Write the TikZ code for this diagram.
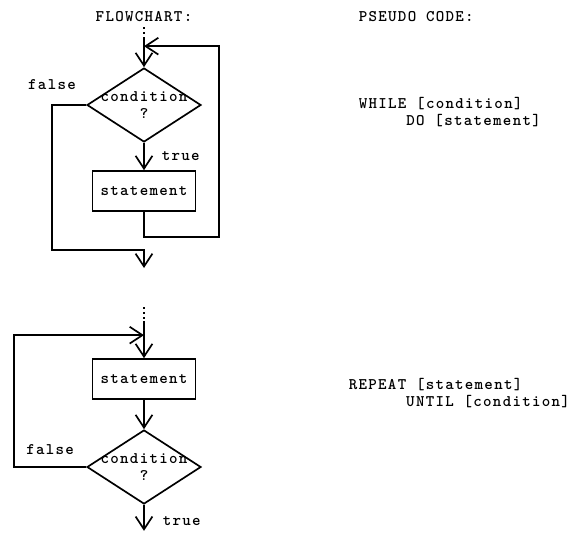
\documentclass[tikz,border=0pt]{standalone}
\usepackage{fontspec}
\setmonofont[Extension=.otf, LetterSpace=8]{lmmonolt10-bold}
\usetikzlibrary{shapes.geometric,calc,arrows.meta}
\tikzstyle{decision} = [diamond, minimum width=2.85cm, minimum height=1.85cm, inner sep=0pt, align=center, draw=black]
\tikzstyle{process} = [rectangle, minimum width=2.575cm, minimum height=1cm, inner sep=0pt, draw=black]
\tikzstyle{lbl} = [inner sep=0pt]
\tikzstyle{code} = [anchor=west, align=left, inner sep=0pt]
\tikzstyle{dots} = [dash pattern=on 1.2pt off 2.4pt]

\begin{document}
\begin{tikzpicture}[node distance=2.2cm, line width=1.2pt, >={Straight Barb[length=3.2mm,width=4.2mm]}, font=\ttfamily\fontsize{11.5}{12}\selectfont]
      \useasboundingbox (0,0) rectangle (14.675,-13.3);
      % headings
      \node (flow)[lbl] at (3.6,-0.415) {FLOWCHART:};
      \node (pseudo)[code] at ($(flow)+(5.35,0)$) {PSEUDO CODE:};
      % while loop
      \node (d1)[decision, below of=flow, node distance=2.21cm]{\makebox[0pt]{condition}\\\makebox[0pt]{?}};
      \node (s1)[process, below of=d1, node distance=2.15cm]{statement};
      \node (while)[code] at ($(d1)+(5.35,-0.175)$) {WHILE [condition]\\\phantom{WHILE}DO [statement]};
      \coordinate (in1) at ($(d1.north)+(0,1)$);
      \coordinate (in1b) at ($(d1.north)+(0,0.7)$);
      \coordinate (j1) at ($(d1.north)+(0,0.525)$);
      \coordinate (r1) at ($(s1.south)+(1.875,-0.625)$);
      \coordinate (l1) at ($(d1)+(-2.3,-3.625)$);
      \coordinate (e1) at ($(d1)+(0,-3.625)$);
      \coordinate (out1) at ($(d1)+(0,-4.075)$);
      \draw [dots](in1)--(in1b);
      \draw [->](in1b)--(d1);
      \draw [->](d1)--(s1) node[lbl, midway, right=0.425cm] {true};
      \draw [->](s1.south) |- (r1) |- (j1);
      \draw [->](d1.west) -| node[lbl, pos=0.5, above=0.36cm] {false} (l1) -- (e1) -- (out1);
      % repeat loop
      \node (s2)[process, below of=s1, node distance=4.7cm]{statement};
      \node (d2)[decision, below of=s2]{\makebox[0pt]{condition}\\\makebox[0pt]{?}};
      \node (repeat)[code] at ($(s2)+(5.1,-0.35)$) {REPEAT [statement]\\\phantom{REPEAT}UNTIL [condition]};
      \coordinate (in2) at ($(s2.north)+(0,1.275)$);
      \coordinate (in2b) at ($(s2.north)+(0,0.925)$);
      \coordinate (j2) at ($(s2.north)+(0,0.575)$);
      \coordinate (l2) at ($(s2.north)+(-3.25,0.575)$);
      \coordinate (out2) at ($(d2.south)+(0,-0.65)$);
      \draw [dots](in2)--(in2b);
      \draw [->](in2b)--(s2);
      \draw [->](s2)--(d2);
      \draw [->](d2.west) -| node[lbl, pos=0.25, above=0.3cm] {false} (l2) -- (j2);
      \draw [->](d2)--(out2) node[lbl, pos=0.63, right=0.45cm] {true};
    \end{tikzpicture}
\end{document}
